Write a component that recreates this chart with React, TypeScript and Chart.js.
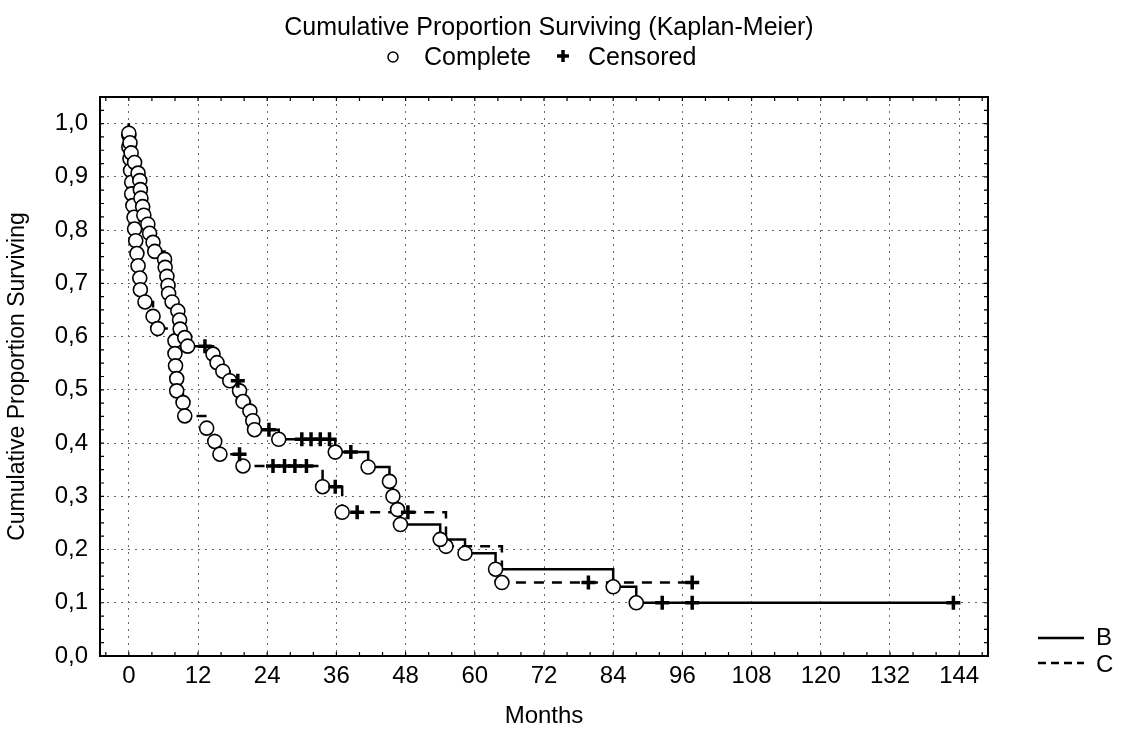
import { useEffect, useRef } from 'react';
import { Chart, registerables } from 'chart.js';

Chart.register(...registerables);

// ---- Axis ticks ----
const xTickValues = [0, 12, 24, 36, 48, 60, 72, 84, 96, 108, 120, 132, 144];
const yTickValues = [0, 0.1, 0.2, 0.3, 0.4, 0.5, 0.6, 0.7, 0.8, 0.9, 1.0];

// ---- Group B (solid line): complete (death) events ----
const bEventMonths = [0, 0.2, 0.4, 1.0, 1.6, 1.9, 2.0, 2.1, 2.4, 2.6, 3.3, 3.6, 4.2, 4.5, 6.2, 6.3, 6.6, 6.8, 6.9, 7.5, 8.5, 8.8, 8.9, 9.7, 10.2, 14.6, 15.3, 16.3, 17.5, 19.2, 19.8, 21.0, 21.5, 21.8, 26.0, 35.8, 41.5, 45.2, 45.8, 46.6, 47.1, 54.0, 58.3, 63.6, 84.0, 88.0];
const bEventSurv = [0.982, 0.964, 0.945, 0.927, 0.907, 0.893, 0.876, 0.860, 0.844, 0.828, 0.811, 0.794, 0.777, 0.760, 0.745, 0.730, 0.713, 0.696, 0.681, 0.665, 0.648, 0.631, 0.614, 0.598, 0.582, 0.567, 0.551, 0.535, 0.517, 0.498, 0.478, 0.460, 0.442, 0.425, 0.407, 0.383, 0.355, 0.328, 0.300, 0.275, 0.247, 0.219, 0.193, 0.163, 0.130, 0.100];
// ---- Group B: censored ----
const bCensMonths = [13.2, 18.9, 24.3, 30.0, 31.6, 33.2, 34.8, 38.5, 92.5, 97.7, 143.0];
const bCensSurv = [0.582, 0.517, 0.425, 0.407, 0.407, 0.407, 0.407, 0.383, 0.100, 0.100, 0.100];

// ---- Group C (dashed line): complete (death) events ----
const cEventMonths = [0, 0, 0.2, 0.3, 0.5, 0.5, 0.7, 0.9, 1.0, 1.2, 1.4, 1.6, 1.9, 2.0, 2.8, 4.2, 5.0, 8.0, 8.0, 8.1, 8.3, 8.3, 9.4, 9.7, 13.5, 14.9, 15.8, 19.8, 33.6, 37.0, 55.0, 64.7];
const cEventSurv = [0.978, 0.956, 0.934, 0.912, 0.890, 0.868, 0.846, 0.824, 0.802, 0.780, 0.756, 0.733, 0.710, 0.688, 0.665, 0.638, 0.615, 0.592, 0.568, 0.545, 0.521, 0.498, 0.476, 0.451, 0.428, 0.403, 0.379, 0.357, 0.318, 0.270, 0.206, 0.138];
// ---- Group C: censored ----
const cCensMonths = [19.2, 25.0, 27.0, 28.8, 30.8, 35.8, 39.6, 48.4, 79.7, 97.7];
const cCensSurv = [0.379, 0.357, 0.357, 0.357, 0.357, 0.318, 0.270, 0.270, 0.138, 0.138];

const FONT = "'Liberation Sans', Arial, Helvetica, sans-serif";

type Pt = { x: number; y: number };

function toPoints(months: number[], surv: number[]): Pt[] {
  return months.map((m, i) => ({ x: m, y: surv[i] }));
}

function stepCurve(evM: number[], evS: number[], cM: number[], cS: number[]): Pt[] {
  const all = [...toPoints(evM, evS), ...toPoints(cM, cS)];
  all.sort((a, b) => a.x - b.x || b.y - a.y);
  return [{ x: 0, y: 1 }, ...all];
}

const decorPlugin = {
  id: 'decor',
  afterDraw(chart: any) {
    const { ctx, chartArea, scales } = chart;
    const xs = scales.x;
    const ys = scales.y;
    ctx.save();
    // frame
    ctx.strokeStyle = '#000';
    ctx.lineWidth = 2;
    ctx.setLineDash([]);
    ctx.strokeRect(chartArea.left, chartArea.top, chartArea.right - chartArea.left, chartArea.bottom - chartArea.top);
    // minor inner ticks
    ctx.lineWidth = 1.2;
    ctx.beginPath();
    for (let m = -4; m <= 148; m += 4) {
      const px = xs.getPixelForValue(m);
      if (px <= chartArea.left + 1 || px >= chartArea.right - 1) continue;
      ctx.moveTo(px, chartArea.bottom);
      ctx.lineTo(px, chartArea.bottom - 4);
      ctx.moveTo(px, chartArea.top);
      ctx.lineTo(px, chartArea.top + 4);
    }
    for (let k = 1; k <= 41; k++) {
      const py = ys.getPixelForValue(k * 0.025);
      if (py <= chartArea.top + 1) continue;
      ctx.moveTo(chartArea.left, py);
      ctx.lineTo(chartArea.left + 4, py);
      ctx.moveTo(chartArea.right, py);
      ctx.lineTo(chartArea.right - 4, py);
    }
    ctx.stroke();

    // title
    ctx.fillStyle = '#000';
    ctx.font = `25px ${FONT}`;
    ctx.textAlign = 'center';
    ctx.textBaseline = 'middle';
    ctx.fillText('Cumulative Proportion Surviving (Kaplan-Meier)', 549, 28);

    // top legend: Complete / Censored
    ctx.lineWidth = 1.5;
    ctx.beginPath();
    ctx.arc(393, 57, 5, 0, Math.PI * 2);
    ctx.stroke();
    ctx.textAlign = 'left';
    ctx.fillText('Complete', 424, 58);
    ctx.lineWidth = 3.5;
    ctx.beginPath();
    ctx.moveTo(557, 56);
    ctx.lineTo(569, 56);
    ctx.moveTo(563, 50);
    ctx.lineTo(563, 62);
    ctx.stroke();
    ctx.fillText('Censored', 588, 58);

    // B / C legend
    ctx.font = `24px ${FONT}`;
    ctx.lineWidth = 2.5;
    ctx.beginPath();
    ctx.moveTo(1038, 638);
    ctx.lineTo(1084, 638);
    ctx.stroke();
    ctx.setLineDash([8, 5]);
    ctx.beginPath();
    ctx.moveTo(1038, 663);
    ctx.lineTo(1084, 663);
    ctx.stroke();
    ctx.setLineDash([]);
    ctx.fillText('B', 1096, 638);
    ctx.fillText('C', 1096, 665);
    ctx.restore();
  },
};

export default function App() {
  const canvasRef = useRef<HTMLCanvasElement | null>(null);

  useEffect(() => {
    const canvas = canvasRef.current;
    if (!canvas) return;
    Chart.defaults.font.family = FONT;
    Chart.defaults.color = '#000';

    const lineCommon = {
      showLine: true,
      stepped: 'before' as const,
      borderColor: '#000',
      borderWidth: 2.5,
      pointRadius: 0,
      fill: false,
      order: 3,
    };
    const circleCommon = {
      showLine: false,
      pointStyle: 'circle' as const,
      pointRadius: 7,
      pointBackgroundColor: '#fff',
      pointBorderColor: '#000',
      pointBorderWidth: 1.6,
      order: 2,
    };
    const crossCommon = {
      showLine: false,
      pointStyle: 'cross' as const,
      pointRadius: 7,
      pointBorderColor: '#000',
      pointBackgroundColor: '#000',
      pointBorderWidth: 3.5,
      order: 1,
    };

    const chart = new Chart(canvas, {
      type: 'scatter',
      data: {
        datasets: [
          { label: 'B', data: stepCurve(bEventMonths, bEventSurv, bCensMonths, bCensSurv), ...lineCommon },
          { label: 'C', data: stepCurve(cEventMonths, cEventSurv, cCensMonths, cCensSurv), ...lineCommon, borderDash: [10, 8] },
          { label: 'B Complete', data: toPoints(bEventMonths, bEventSurv), ...circleCommon },
          { label: 'C Complete', data: toPoints(cEventMonths, cEventSurv), ...circleCommon },
          { label: 'B Censored', data: toPoints(bCensMonths, bCensSurv), ...crossCommon },
          { label: 'C Censored', data: toPoints(cCensMonths, cCensSurv), ...crossCommon },
        ],
      },
      options: {
        responsive: false,
        animation: false,
        events: [],
        layout: { padding: { top: 97, right: 135, left: 0, bottom: 0 } },
        plugins: {
          legend: { display: false },
          tooltip: { enabled: false },
          title: { display: false },
        },
        scales: {
          x: {
            type: 'linear',
            min: -5,
            max: 149,
            afterBuildTicks: (s: any) => {
              s.ticks = xTickValues.map((v) => ({ value: v }));
            },
            afterFit: (s: any) => {
              s.height = 75;
            },
            grid: { color: '#666', lineWidth: 1, drawTicks: false },
            border: { display: false, dash: [2, 5] },
            ticks: {
              font: { size: 24 },
              color: '#000',
              padding: 6,
              maxRotation: 0,
              autoSkip: false,
              callback: (v: any) => String(v),
            },
            title: { display: true, text: 'Months', font: { size: 24 }, color: '#000', padding: { top: 0, bottom: 0 } },
          },
          y: {
            type: 'linear',
            min: 0,
            max: 1.05,
            afterBuildTicks: (s: any) => {
              s.ticks = yTickValues.map((v) => ({ value: v }));
            },
            afterFit: (s: any) => {
              s.width = 100;
            },
            grid: { color: '#666', lineWidth: 1, drawTicks: false },
            border: { display: false, dash: [2, 5] },
            ticks: {
              font: { size: 24 },
              color: '#000',
              padding: 12,
              autoSkip: false,
              callback: (v: any) => Number(v).toFixed(1).replace('.', ','),
            },
            title: {
              display: true,
              text: 'Cumulative Proportion Surviving',
              font: { size: 23 },
              color: '#000',
              padding: { top: 4, bottom: 4 },
            },
          },
        },
      },
      plugins: [decorPlugin],
    });

    return () => {
      chart.destroy();
    };
  }, []);

  return (
    <div style={{ position: 'absolute', left: 0, top: 0, width: 1123, height: 731, background: '#fff' }}>
      <canvas ref={canvasRef} width={1123} height={731} />
    </div>
  );
}
